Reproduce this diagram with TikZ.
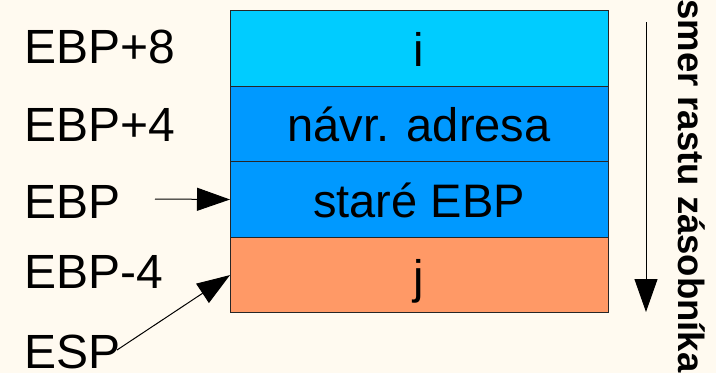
\documentclass[tikz,border=0pt]{standalone}
\usepackage{fontspec}
\setmainfont{Liberation Sans}
\usetikzlibrary{arrows.meta}
\definecolor{bg}{RGB}{255,250,240}
\definecolor{cyanbox}{RGB}{0,204,255}
\definecolor{bluebox}{RGB}{0,153,255}
\definecolor{orangebox}{RGB}{255,153,102}
\begin{document}
\begin{tikzpicture}[x=1pt,y=1pt,
  cell/.style={draw=black!85, line width=1pt, minimum width=378pt, minimum height=75.6pt, inner sep=0pt, outer sep=0pt},
  lbl/.style={anchor=base west, inner sep=0pt, font=\fontsize{48}{52}\selectfont},
  celltxt/.style={anchor=base, inner sep=0pt, font=\fontsize{47}{51}\selectfont},
  arr/.style={line width=1pt, -{Triangle[length=33pt,width=23pt]}}]
\fill[bg] (0,0) rectangle (716,-373);
\useasboundingbox (0,0) rectangle (716,-373);
% stack cells
\node[cell, fill=cyanbox, anchor=north west] (b1) at (230,-10.5) {};
\node[cell, fill=bluebox, anchor=north] (b2) at (b1.south) {};
\node[cell, fill=bluebox, anchor=north] (b3) at (b2.south) {};
\node[cell, fill=orangebox, anchor=north] (b4) at (b3.south) {};
\node[celltxt] (t1) at ([yshift=-18pt]b1.center) {i};
\node[celltxt] (t2) at ([yshift=-18pt]b2.center) {návr. adresa};
\node[celltxt] (t3) at ([yshift=-18pt]b3.center) {staré EBP};
\node[celltxt] (t4) at ([yshift=-18pt]b4.center) {j};
% left labels
\node[lbl] (l1) at (24,-63) {EBP+8};
\node[lbl] (l2) at (24,-141) {EBP+4};
\node[lbl] (l3) at (24,-218) {EBP};
\node[lbl] (l4) at (24,-288) {EBP-4};
\node[lbl] (l5) at (24,-368) {ESP};
% pointers
\coordinate (ebpstart) at (155,-199);
\coordinate (espstart) at (117,-350);
\draw[arr] (ebpstart) -- (b3.west);
\draw[arr] (espstart) -- (b4.west);
% growth direction
\coordinate (gtop) at (646,-22);
\coordinate (gbot) at (646,-312);
\draw[arr] (gtop) -- (gbot);
\node[rotate=-90, anchor=base, inner sep=0pt, font=\fontsize{36.5}{40}\selectfont\bfseries] (dir) at (678,-186) {smer rastu zásobníka};
\end{tikzpicture}
\end{document}
